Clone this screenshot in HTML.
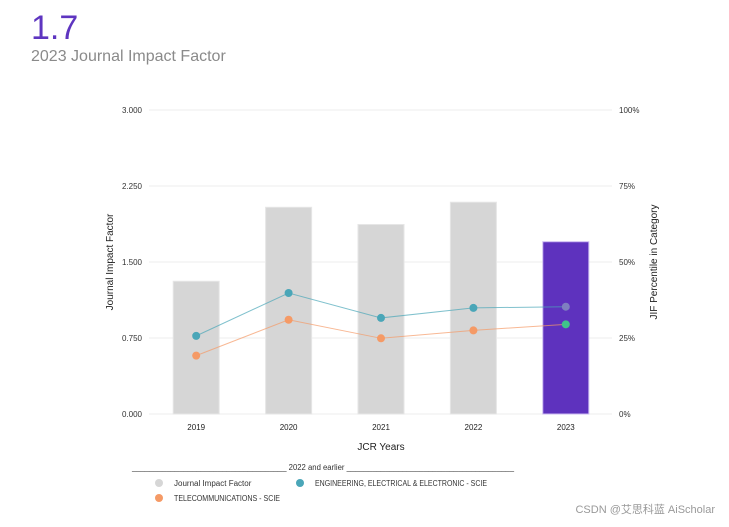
<!DOCTYPE html>
<html><head><meta charset="utf-8"><style>
body{margin:0;background:#fff;font-family:"Liberation Sans",sans-serif;}
svg text{font-family:"Liberation Sans",sans-serif;}
</style></head><body>
<svg width="729" height="522" viewBox="0 0 729 522" xmlns="http://www.w3.org/2000/svg">
<text x="31" y="39" font-size="34" fill="#5e35c0">1.7</text>
<text x="31" y="61" font-size="16" fill="#8a8a8a">2023 Journal Impact Factor</text>
<g id="grid"></g>
<g id="bars"></g>
<g id="lines"></g>
<g id="axes"></g>
<text transform="translate(113,262) rotate(-90)" text-anchor="middle" font-size="10" fill="#222">Journal Impact Factor</text>
<text transform="translate(657,262) rotate(-90)" text-anchor="middle" font-size="10" fill="#222">JIF Percentile in Category</text>
<text x="381" y="450" text-anchor="middle" font-size="10" fill="#222">JCR Years</text>
<g font-size="8" fill="#333">
<text x="132" y="470" textLength="382" lengthAdjust="spacingAndGlyphs">____________________________________ 2022 and earlier _______________________________________</text>
<circle cx="159" cy="483" r="4" fill="#d6d6d6"/>
<text x="174" y="486">Journal Impact Factor</text>
<circle cx="300" cy="483" r="4" fill="#4aa6b8"/>
<text x="315" y="486" textLength="172" lengthAdjust="spacingAndGlyphs">ENGINEERING, ELECTRICAL &amp; ELECTRONIC - SCIE</text>
<circle cx="159" cy="498" r="4" fill="#f59a66"/>
<text x="174" y="501" textLength="106" lengthAdjust="spacingAndGlyphs">TELECOMMUNICATIONS - SCIE</text>
</g>
<text x="715" y="513" text-anchor="end" font-size="11" fill="#999" font-family="Liberation Sans, Noto Sans CJK SC, sans-serif">CSDN @艾思科蓝 AiScholar</text>
</svg>
<script>
const years=["2019","2020","2021","2022","2023"];
const jif=[1.31,2.04,1.87,2.09,1.70];
const engPct=[25.7,39.8,31.6,34.9,35.3];
const telPct=[19.2,31.0,24.9,27.5,29.5];
const yTicks=[0,0.75,1.5,2.25,3];
const yTickLabels=["0.000","0.750","1.500","2.250","3.000"];
const y2TickLabels=["0%","25%","50%","75%","100%"];
const NS="http://www.w3.org/2000/svg";
const L=150,R=612,T=110,B=414,band=(R-L)/years.length;
const xs=i=>L+band*(i+0.5);
const y=v=>B-(v/3)*(B-T);
const y2=p=>B-(p/100)*(B-T);
function mk(tag,at,parent){const e=document.createElementNS(NS,tag);for(const k in at)e.setAttribute(k,at[k]);document.getElementById(parent).appendChild(e);return e;}
yTicks.forEach((t,i)=>{
 const g=mk('line',{x1:149,x2:R,y1:y(t),y2:y(t),stroke:'#ececec','stroke-width':1},'grid');
 
 
 const a=mk('text',{x:142,y:y(t)+3,'text-anchor':'end','font-size':8,fill:'#333'},'axes');a.textContent=yTickLabels[i];
 
 
 const b=mk('text',{x:619,y:y(t)+3,'font-size':8,fill:'#333'},'axes');b.textContent=y2TickLabels[i];
 
 
});
years.forEach((yr,i)=>{
 const w=46,last=i===years.length-1;
 const r=mk('rect',{x:xs(i)-w/2,y:y(jif[i]),width:w,height:B-y(jif[i]),fill:last?'#5e32be':'#d6d6d6',stroke:last?'#c9b8f0':'#e6e6e6','stroke-width':1},'bars');
 
 
 const t=mk('text',{x:xs(i),y:430,'text-anchor':'middle','font-size':8,fill:'#222'},'axes');t.textContent=yr;
 
 
});
function series(vals,col,lastCol,name){
 const p=mk('polyline',{points:vals.map((v,i)=>xs(i)+','+y2(v)).join(' '),fill:'none',stroke:col,'stroke-width':1,opacity:0.7},'lines');
 
 
 vals.forEach((v,i)=>{
  const c=mk('circle',{cx:xs(i),cy:y2(v),r:4,fill:i===vals.length-1?lastCol:col},'lines');
  
  
 });
}
series(engPct,'#4aa6b8','#7f7fc0','eng');
series(telPct,'#f59a66','#3fc58a','tel');
</script>
</body></html>
